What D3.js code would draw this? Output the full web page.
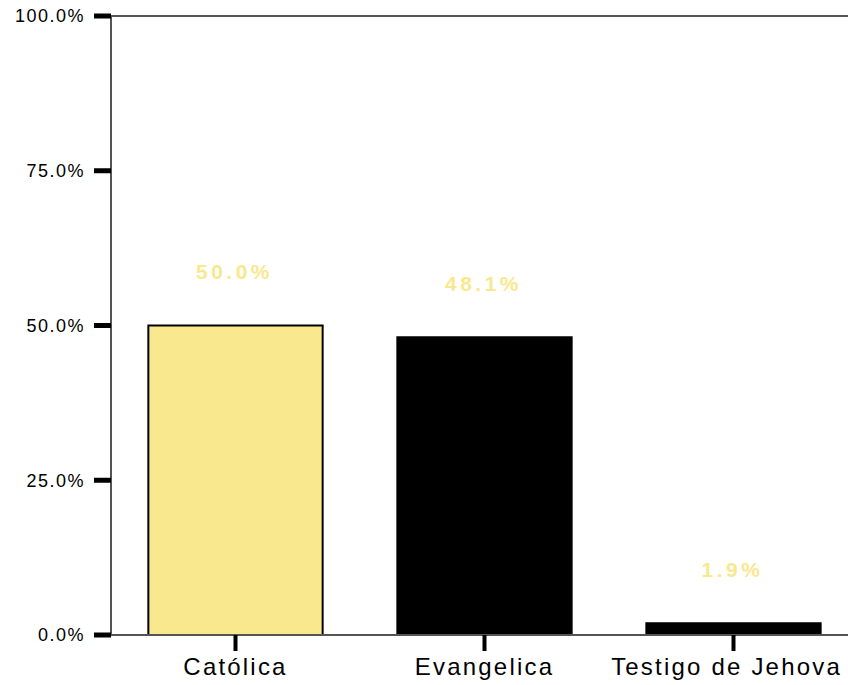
<!DOCTYPE html>
<html><head><meta charset="utf-8">
<script src="https://cdn.jsdelivr.net/npm/d3@7"></script>
<style>body{margin:0;background:#fff}svg{display:block}</style>
</head><body>
<svg id="c" width="848" height="685"></svg>
<script>
const categories = ["Católica", "Evangelica", "Testigo de Jehova"];
const values = [50.0, 48.1, 1.9];
const valueLabels = ["50.0%", "48.1%", "1.9%"];
const barColors = ["#FAE88F", "#000000", "#000000"];
const tickValues = [0, 25, 50, 75, 100];
const tickLabels = ["0.0%", "25.0%", "50.0%", "75.0%", "100.0%"];

const svg = d3.select("#c");
const W = 848;
const x = d3.scaleBand().domain(categories).range([111, 858]).paddingInner(0.3).paddingOuter(0.15);
const y = d3.scaleLinear().domain([0, 100]).range([635, 16]);
const font = "Liberation Sans, Arial, sans-serif";

// frame lines
svg.append("line").attr("x1", 111).attr("x2", W).attr("y1", y(100)).attr("y2", y(100)).attr("stroke", "#555").attr("stroke-width", 2);
svg.append("line").attr("x1", 111).attr("x2", 111).attr("y1", y(100)).attr("y2", y(0)).attr("stroke", "#555").attr("stroke-width", 2);

// bars
svg.selectAll("rect.bar").data(values).join("rect")
  .attr("class", "bar")
  .attr("x", (d, i) => x(categories[i]))
  .attr("width", x.bandwidth())
  .attr("y", d => y(d))
  .attr("height", d => y(0) - y(d))
  .attr("fill", (d, i) => barColors[i])
  .attr("stroke", "#000").attr("stroke-width", 2);

// bottom axis line
svg.append("line").attr("x1", 111).attr("x2", W).attr("y1", y(0)).attr("y2", y(0)).attr("stroke", "#555").attr("stroke-width", 2);

// y ticks
svg.selectAll("rect.yt").data(tickValues).join("rect")
  .attr("x", 94).attr("width", 17)
  .attr("y", d => y(d) - 2.5).attr("height", 5).attr("fill", "#000");
svg.selectAll("text.yl").data(tickValues).join("text")
  .attr("x", 85).attr("y", d => y(d)).attr("dy", "0.35em")
  .attr("text-anchor", "end").attr("font-family", font)
  .attr("font-size", 18).attr("letter-spacing", 1.5).attr("fill", "#000")
  .text((d, i) => tickLabels[i]);

// x ticks
svg.selectAll("rect.xt").data(categories).join("rect")
  .attr("x", d => x(d) + x.bandwidth() / 2 - 2).attr("width", 4)
  .attr("y", y(0)).attr("height", 16).attr("fill", "#000");
svg.selectAll("text.xl").data(categories).join("text")
  .attr("class", "xl")
  .attr("y", 675)
  .attr("text-anchor", "start").attr("font-family", font)
  .attr("font-size", 24).attr("letter-spacing", 2.2).attr("fill", "#000")
  .text(d => d)
  .each(function(d) {
    const w = this.getComputedTextLength();
    let left = x(d) + x.bandwidth() / 2 - w / 2;
    if (left + w > W - 6) left = W - 6 - w;
    d3.select(this).attr("x", left);
  });

// value labels
svg.selectAll("text.vl").data(values).join("text")
  .attr("x", (d, i) => x(categories[i]) + x.bandwidth() / 2 - 1)
  .attr("y", d => y(d) - 54).attr("dy", "0.35em")
  .attr("text-anchor", "middle").attr("font-family", font)
  .attr("font-size", 21).attr("font-weight", "bold").attr("letter-spacing", 3.5).attr("fill", "#FAE88F")
  .text((d, i) => valueLabels[i]);
</script>
</body></html>
